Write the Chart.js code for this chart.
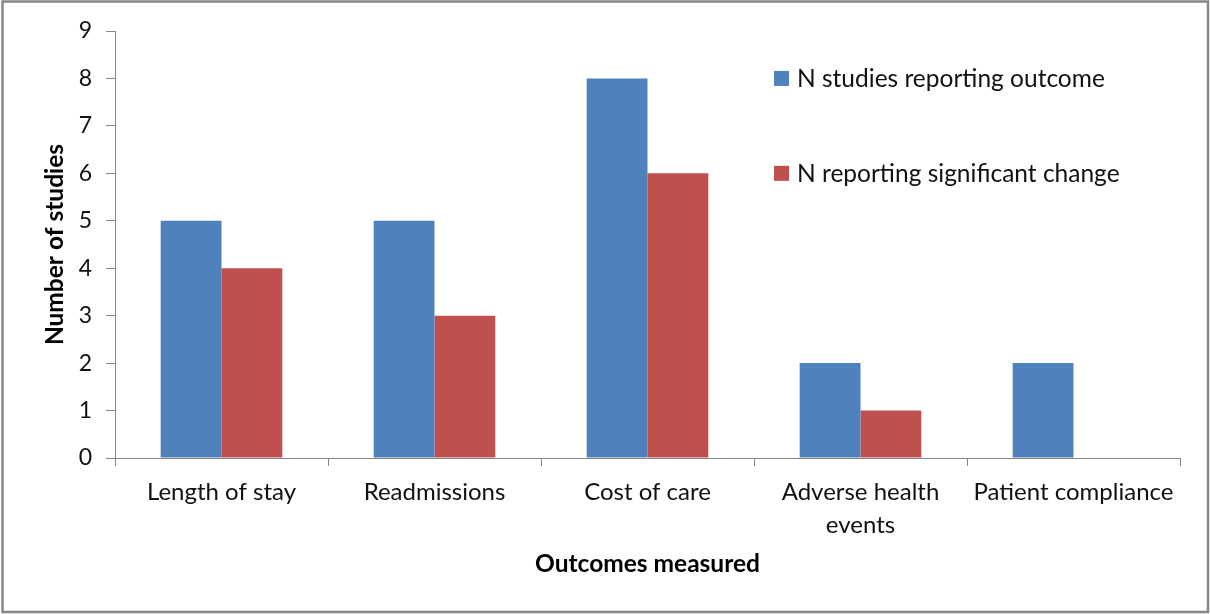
<!DOCTYPE html>
<html>
<head>
<meta charset="utf-8">
<script src="https://cdn.jsdelivr.net/npm/chart.js@4.4.1/dist/chart.umd.min.js"></script>
<style>
  html, body { margin: 0; padding: 0; background: #fff; }
  #wrap { width: 1210px; height: 614px; position: relative; }
</style>
</head>
<body>
<div id="wrap"><canvas id="c" width="1210" height="614"></canvas></div>
<script>
// Outcomes reviewed and how many studies reported each
const categories = ['Length of stay', 'Readmissions', 'Cost of care', ['Adverse health', 'events'], 'Patient compliance'];
const seriesNames = ['N studies reporting outcome', 'N reporting significant change'];
const studiesReporting = [5, 5, 8, 2, 2];
const significantChange = [4, 3, 6, 1, 0];
const yTicks = [0, 1, 2, 3, 4, 5, 6, 7, 8, 9];

const BLUE = '#4F81BD';
const RED = '#C0504D';
const AXIS = '#868686';
const FONT = 'Lato, "Open Sans", sans-serif';

// White background and grey outer frame
const framePlugin = {
  id: 'frame',
  beforeDraw(chart) {
    const { ctx, width, height } = chart;
    ctx.save();
    ctx.fillStyle = '#fff';
    ctx.fillRect(0, 0, width, height);
    ctx.strokeStyle = '#878787';
    ctx.lineWidth = 2.5;
    ctx.strokeRect(2.5, 1.5, width - 4.5, height - 3.5);
    ctx.restore();
  }
};

// Legend drawn inside the plot area, upper right
const insideLegend = {
  id: 'insideLegend',
  afterDraw(chart) {
    const { ctx } = chart;
    const x = chart.chartArea.left + 659;
    const rows = [chart.scales.y.getPixelForValue(8), chart.scales.y.getPixelForValue(6)];
    ctx.save();
    ctx.font = '24.5px ' + FONT;
    ctx.textBaseline = 'middle';
    chart.data.datasets.forEach((ds, i) => {
      const cy = rows[i];
      ctx.fillStyle = ds.backgroundColor;
      ctx.fillRect(x, cy - 7.5, 15, 15);
      ctx.fillStyle = '#111';
      ctx.fillText(ds.label, x + 23, cy + 1);
    });
    ctx.restore();
  }
};

new Chart(document.getElementById('c'), {
  type: 'bar',
  data: {
    labels: categories,
    datasets: [
      { label: seriesNames[0], data: studiesReporting, backgroundColor: BLUE },
      { label: seriesNames[1], data: significantChange, backgroundColor: RED }
    ]
  },
  options: {
    responsive: false,
    animation: false,
    devicePixelRatio: 1,
    layout: { padding: { left: 40, right: 30, top: 31, bottom: 35 } },
    plugins: { legend: { display: false }, tooltip: { enabled: false } },
    datasets: { bar: { categoryPercentage: 0.571, barPercentage: 1 } },
    scales: {
      x: {
        grid: { drawOnChartArea: false, drawTicks: true, tickLength: 8, color: AXIS, offset: true },
        border: { color: AXIS, width: 1 },
        ticks: { color: '#111', font: { family: FONT, size: 24, lineHeight: 1.38 }, padding: 10, maxRotation: 0, autoSkip: false },
        title: { display: true, text: 'Outcomes measured', color: '#000', font: { family: FONT, size: 24.5, weight: 'bold', lineHeight: 1.2 }, padding: { top: 0, bottom: 0 } },
        afterFit(scale) { scale.height = 121; }
      },
      y: {
        min: 0, max: 9,
        afterBuildTicks(scale) { scale.ticks = yTicks.map(v => ({ value: v })); },
        grid: { drawOnChartArea: false, drawTicks: true, tickLength: 9, color: AXIS },
        border: { color: AXIS, width: 1 },
        ticks: { color: '#111', font: { family: FONT, size: 23 }, padding: 14 },
        title: { display: true, text: 'Number of studies', color: '#000', font: { family: FONT, size: 24.5, weight: 'bold', lineHeight: 1.2 }, padding: { top: 0, bottom: 0 } },
        afterFit(scale) { scale.width = 75; }
      }
    }
  },
  plugins: [framePlugin, insideLegend]
});
</script>
</body>
</html>
